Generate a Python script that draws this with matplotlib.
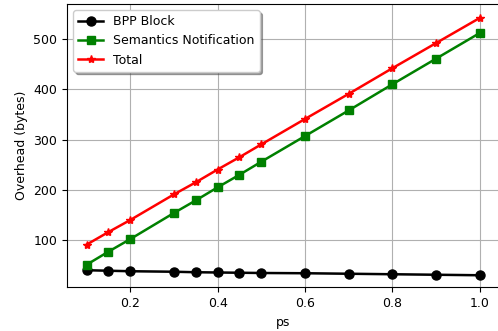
import matplotlib
matplotlib.use("Agg")
from matplotlib import pyplot as plt

ps = [0.1, 0.15, 0.2, 0.3, 0.35, 0.4, 0.45, 0.5, 0.6, 0.7, 0.8, 0.9, 1.0]
bpp_block = [40, 39, 38, 37, 36, 35.5, 35, 34.5, 34, 33, 32, 31, 30]
semantics = [51, 77, 102, 154, 179, 205, 230, 256, 307, 358, 410, 461, 512]
total = [91, 116, 140, 191, 215, 240.5, 265, 290.5, 341, 391, 442, 492, 542]

fig = plt.figure(figsize=(4.98, 3.31), dpi=100)
# axes runs slightly past the right edge, as in the original crop
ax = fig.add_axes([0.1345, 0.132, 0.868, 0.856])
ax.plot(ps, bpp_block, "k-o", label="BPP Block", linewidth=1.8, markersize=6.5)
ax.plot(ps, semantics, "g-s", label="Semantics Notification", linewidth=1.8, markersize=5.5)
ax.plot(ps, total, "r-*", label="Total", linewidth=1.8, markersize=6)
ax.set_xlabel("ps", fontsize=9)
ax.set_ylabel("Overhead (bytes)", fontsize=9)
ax.tick_params(labelsize=9)
ax.set_xlim(0.055, 1.045)
ax.set_ylim(6, 570)
ax.spines["right"].set_visible(False)
ax.grid(True)
ax.legend(loc="upper left", shadow=True, fontsize=9)
fig.savefig("out.png")
